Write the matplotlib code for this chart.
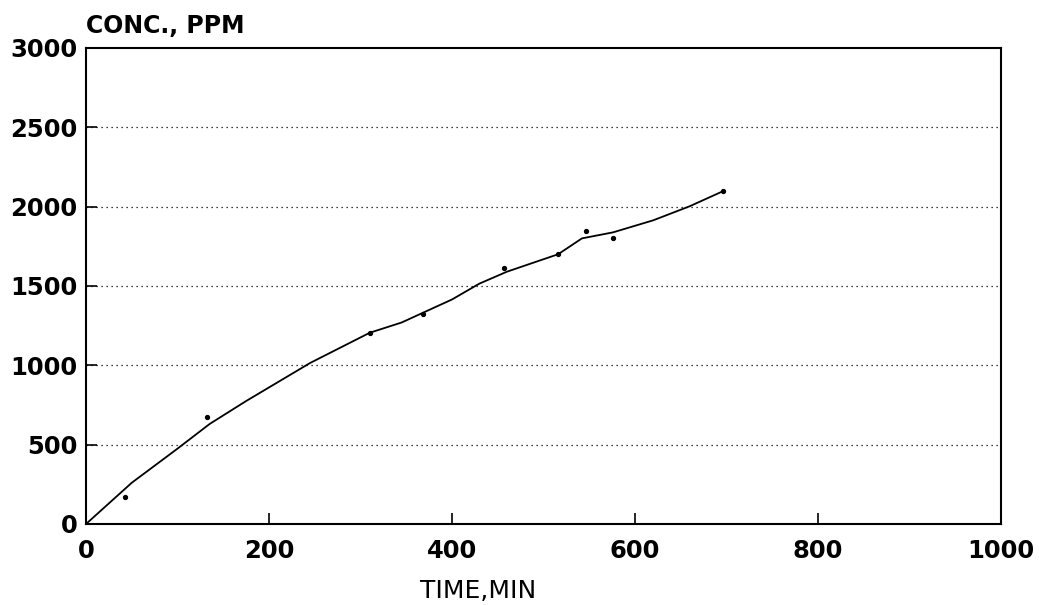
import matplotlib
matplotlib.use("Agg")
import matplotlib.pyplot as plt

# measured points
time_pts = [43, 132, 310, 368, 457, 516, 546, 576, 696]
conc_pts = [170, 675, 1205, 1325, 1615, 1700, 1845, 1800, 2097]

# fitted curve as drawn
time_fit = [0, 50, 100, 135, 175, 245, 310, 345, 400, 430, 460, 516, 542, 576, 620, 660, 696]
conc_fit = [0, 260, 475, 630, 775, 1015, 1205, 1270, 1415, 1515, 1590, 1700, 1800, 1838, 1914, 2003, 2097]

x_ticks = [0, 200, 400, 600, 800, 1000]
y_ticks = [0, 500, 1000, 1500, 2000, 2500, 3000]

plt.rcParams['font.family'] = ['DejaVu Sans']

fig = plt.figure(figsize=(10.39, 6.05), dpi=100)
ax = fig.add_axes([0.0828, 0.1339, 0.8806, 0.7868])

for y in y_ticks[1:-1]:
    ax.axhline(y, color='black', linestyle=(0, (1, 3)), linewidth=0.9, zorder=1)

ax.plot(time_fit, conc_fit, color='black', linewidth=1.3, zorder=3)
ax.plot(time_pts, conc_pts, 'o', color='black', markersize=2.8, zorder=4)

ax.set_xlim(0, 1000)
ax.set_ylim(0, 3000)
ax.set_xticks(x_ticks)
ax.set_yticks(y_ticks)
ax.tick_params(direction='in', length=8, width=1.2, labelsize=17.5)
ax.tick_params(axis='x', pad=11)
ax.tick_params(axis='y', pad=6)
for lab in ax.get_xticklabels() + ax.get_yticklabels():
    lab.set_fontweight('bold')
for s in ax.spines.values():
    s.set_linewidth(1.5)

fig.text(478 / 1039, 1 - 591 / 605, "TIME,MIN", fontsize=18,
         ha='center', va='center')
ax.text(0.0, 1.02, "CONC., PPM", transform=ax.transAxes, fontsize=17,
        fontweight='bold', ha='left', va='bottom')

fig.savefig("out.png", dpi=100)
